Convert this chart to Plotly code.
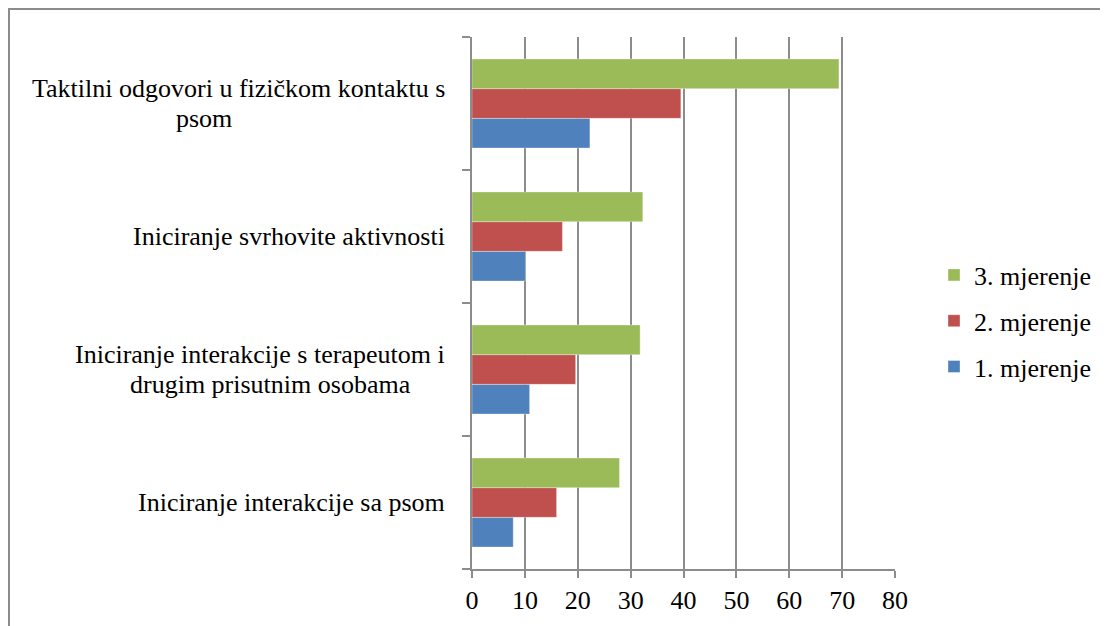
import plotly.graph_objects as go

categories = [
    "Iniciranje interakcije sa psom",
    "Iniciranje interakcije s terapeutom i<br>drugim prisutnim osobama",
    "Iniciranje svrhovite aktivnosti",
    "Taktilni odgovori u fizičkom kontaktu s<br>psom",
]
series_names = ["1. mjerenje", "2. mjerenje", "3. mjerenje"]
m1 = [7.8, 10.9, 10.1, 22.3]
m2 = [16.0, 19.6, 17.1, 39.5]
m3 = [27.9, 31.8, 32.3, 69.4]
colors = ["#4F81BD", "#C0504D", "#9BBB59"]
x_ticks = [0, 10, 20, 30, 40, 50, 60, 70, 80]

FONT = "Liberation Serif"
FS = 26

# page offset (body margin) = 8 px
OFF = 8
L, T = 464, 29
R = 1108 - 887
B = 626 - 561
dom_w = 1108 - L - R
dom_h = 626 - T - B


def xd(screen_x):
    return (screen_x - OFF - L) / dom_w


fig = go.Figure()
for i, (name, vals) in enumerate(zip(series_names, [m1, m2, m3])):
    fig.add_trace(go.Bar(
        y=list(range(len(categories))), x=vals, name=name, orientation="h",
        marker=dict(color=colors[i], line=dict(color="rgba(255,255,255,0.35)", width=1)),
        legendgroup=name, legendrank=3 - i,
    ))

# second-line centres (screen px) for wrapped labels
second_line_center = {1: 270, 3: 204}
for i, c in enumerate(categories):
    lines = c.split("<br>")
    if len(lines) == 1:
        fig.add_annotation(x=xd(447), xref="x domain", y=i, yref="y", text=lines[0],
                           showarrow=False, xanchor="right", yanchor="middle",
                           font=dict(family=FONT, size=FS, color="black"))
    else:
        fig.add_annotation(x=xd(447), xref="x domain", y=i, yref="y", text=lines[0],
                           showarrow=False, xanchor="right", yanchor="middle", yshift=15,
                           font=dict(family=FONT, size=FS, color="black"))
        fig.add_annotation(x=xd(second_line_center[i]), xref="x domain", y=i, yref="y",
                           text=lines[1], showarrow=False, xanchor="center",
                           yanchor="middle", yshift=-15,
                           font=dict(family=FONT, size=FS, color="black"))

fig.update_layout(
    width=1108, height=626,
    margin=dict(l=L, r=R, t=T, b=B),
    paper_bgcolor="white", plot_bgcolor="white",
    barmode="group", bargap=0.33, bargroupgap=0,
    font=dict(family=FONT, size=FS, color="black"),
    showlegend=True,
    legend=dict(x=(926 - L) / dom_w, y=(561 - 313) / dom_h, xanchor="left", yanchor="middle",
                traceorder="grouped", tracegroupgap=9,
                font=dict(family=FONT, size=FS, color="black"),
                itemwidth=30, bgcolor="rgba(0,0,0,0)"),
    xaxis=dict(range=[0, 80], tickvals=x_ticks, showgrid=True, gridcolor="#8C8C8C",
               gridwidth=1.5, zeroline=False, showline=True, linecolor="#8C8C8C",
               linewidth=1.5, ticks="outside", ticklen=7, tickcolor="#8C8C8C",
               tickwidth=1.5, tickfont=dict(family=FONT, size=FS, color="black")),
    yaxis=dict(range=[-0.5, 3.5], tickvals=[-0.5, 0.5, 1.5, 2.5, 3.5], showticklabels=False,
               showgrid=False, zeroline=False, showline=True, linecolor="#8C8C8C",
               linewidth=1.5, ticks="outside", ticklen=8, tickcolor="#8C8C8C", tickwidth=1.5),
)

fig.add_shape(type="rect", xref="paper", yref="paper",
              x0=(1 - L) / dom_w, x1=(1096 - L) / dom_w,
              y0=(dom_h + T - 640) / dom_h, y1=(dom_h + T - 1) / dom_h,
              line=dict(color="#8C8C8C", width=2), fillcolor="rgba(0,0,0,0)", layer="below")

fig.write_html("out.html")
